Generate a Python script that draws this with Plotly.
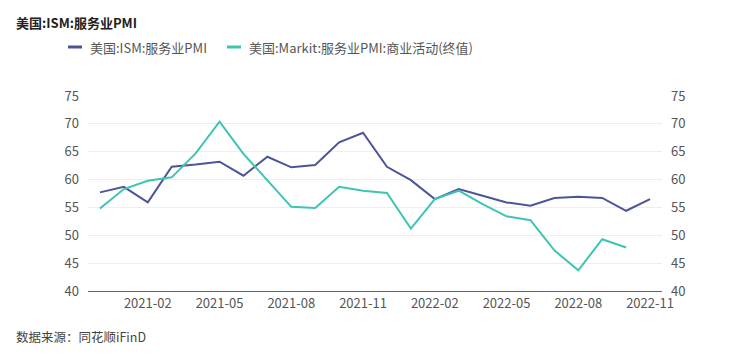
import plotly.graph_objects as go

months = ["2020-12", "2021-01", "2021-02", "2021-03", "2021-04", "2021-05", "2021-06",
          "2021-07", "2021-08", "2021-09", "2021-10", "2021-11", "2021-12", "2022-01",
          "2022-02", "2022-03", "2022-04", "2022-05", "2022-06", "2022-07", "2022-08",
          "2022-09", "2022-10", "2022-11"]
ism = [57.7, 58.7, 55.9, 62.3, 62.7, 63.2, 60.7, 64.1, 62.2, 62.6, 66.7, 68.4,
       62.3, 59.9, 56.5, 58.3, 57.1, 55.9, 55.3, 56.7, 56.9, 56.7, 54.4, 56.5]
markit = [54.8, 58.3, 59.8, 60.4, 64.7, 70.4, 64.6, 59.9, 55.1, 54.9, 58.7, 58.0,
          57.6, 51.2, 56.5, 58.0, 55.6, 53.4, 52.7, 47.3, 43.7, 49.3, 47.8, None]
tick_labels = ["2021-02", "2021-05", "2021-08", "2021-11", "2022-02", "2022-05", "2022-08", "2022-11"]

name_ism = "美国:ISM:服务业PMI"
name_markit = "美国:Markit:服务业PMI:商业活动(终值)"
c_ism = "#4b5599"
c_markit = "#3ec4b2"
font_family = "Noto Sans CJK SC, Noto Sans, sans-serif"

fig = go.Figure()
fig.add_trace(go.Scatter(x=months, y=ism, mode="lines", name=name_ism,
                         line=dict(color=c_ism, width=2), yaxis="y"))
fig.add_trace(go.Scatter(x=months, y=markit, mode="lines", name=name_markit,
                         line=dict(color=c_markit, width=2), yaxis="y2"))
fig.update_layout(
    width=750, height=361,
    margin=dict(l=88, r=88, t=96, b=70),
    paper_bgcolor="white", plot_bgcolor="white",
    font=dict(family=font_family, size=13, color="#555555"),
    showlegend=False,
    xaxis=dict(type="category", range=[-0.5, len(months) - 0.5],
               tickmode="array", tickvals=tick_labels, ticktext=tick_labels,
               showgrid=False, showline=True, linecolor="#5c6294", linewidth=1,
               ticks="", tickfont=dict(size=13, color="#555555"), ticklabelstandoff=0),
    yaxis=dict(range=[40, 75], dtick=5, showgrid=True, gridcolor="#eceef7",
               zeroline=False, showline=False, ticks="",
               tickfont=dict(size=13, color="#555555"), ticklabelstandoff=8),
    yaxis2=dict(range=[40, 75], dtick=5, overlaying="y", side="right",
                showgrid=False, zeroline=False, showline=False, ticks="",
                tickfont=dict(size=13, color="#555555"), ticklabelstandoff=8),
)

pw, ph = 574, 195
def px(xp):
    return (xp - 88) / pw
def py(yp):
    return (291 - yp) / ph

# title
fig.add_annotation(text="<b>美国:ISM:服务业PMI</b>", xref="paper", yref="paper",
                   x=px(14), y=py(22), xanchor="left", yanchor="middle",
                   showarrow=False, font=dict(size=13, color="#222222"))
# custom legend
leg_y = 47
for x0, col, txt in [(68, c_ism, name_ism), (227, c_markit, name_markit)]:
    fig.add_shape(type="line", xref="paper", yref="paper",
                  x0=px(x0), x1=px(x0 + 14), y0=py(leg_y), y1=py(leg_y),
                  line=dict(color=col, width=3))
    fig.add_annotation(text=txt, xref="paper", yref="paper", x=px(x0 + 20), y=py(leg_y),
                       xanchor="left", yanchor="middle", showarrow=False,
                       font=dict(size=13, color="#555555"))
# source
fig.add_annotation(text="数据来源：同花顺iFinD", xref="paper", yref="paper",
                   x=px(14), y=py(336), xanchor="left", yanchor="middle",
                   showarrow=False, font=dict(size=12.5, color="#444444"))

fig.write_html("out.html", config={"displayModeBar": False},
               post_script="document.body.style.margin='0';")
